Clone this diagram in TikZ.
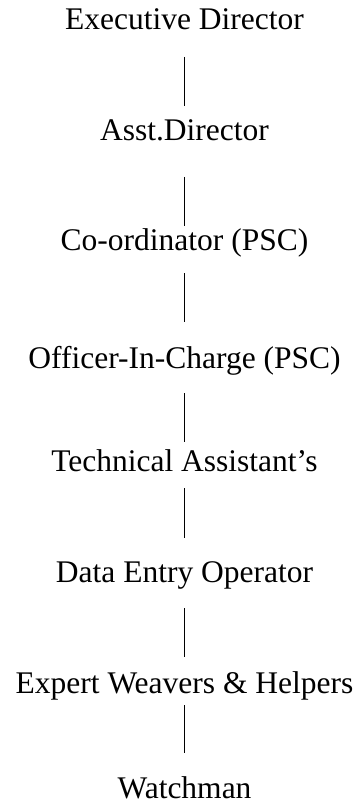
\documentclass[tikz,border=0pt]{standalone}
\usepackage{fontspec}
\setmainfont{Liberation Serif}
\begin{document}
\begin{tikzpicture}[x=1pt,y=-1pt,
  role/.style={anchor=base,inner sep=0pt,font=\fontsize{31.5}{36}\selectfont},
  link/.style={line width=1.7pt}]
\useasboundingbox (0,0) rectangle (361,810);
\node[role] (ed) at (184.5,30) {Executive Director};
\node[role] (ad) at (184.5,141) {Asst.Director};
\node[role] (co) at (184.5,250) {Co-ordinator (PSC)};
\node[role] (oc) at (184.5,368) {Officer-In-Charge (PSC)};
\node[role] (ta) at (184.5,471) {Technical Assistant’s};
\node[role] (de) at (184.5,582) {Data Entry Operator};
\node[role] (ew) at (184.5,693) {Expert Weavers \& Helpers};
\node[role] (wm) at (184.5,798) {Watchman};
\draw[link] ([yshift=-27pt]ed.base) -- ([yshift=35pt]ad.base);
\draw[link] ([yshift=-36pt]ad.base) -- ([yshift=24pt]co.base);
\draw[link] ([yshift=-23pt]co.base) -- ([yshift=46pt]oc.base);
\draw[link] ([yshift=-25pt]oc.base) -- ([yshift=29pt]ta.base);
\draw[link] ([yshift=-17pt]ta.base) -- ([yshift=44pt]de.base);
\draw[link] ([yshift=-26pt]de.base) -- ([yshift=36pt]ew.base);
\draw[link] ([yshift=-12pt]ew.base) -- ([yshift=45pt]wm.base);
\end{tikzpicture}
\end{document}
